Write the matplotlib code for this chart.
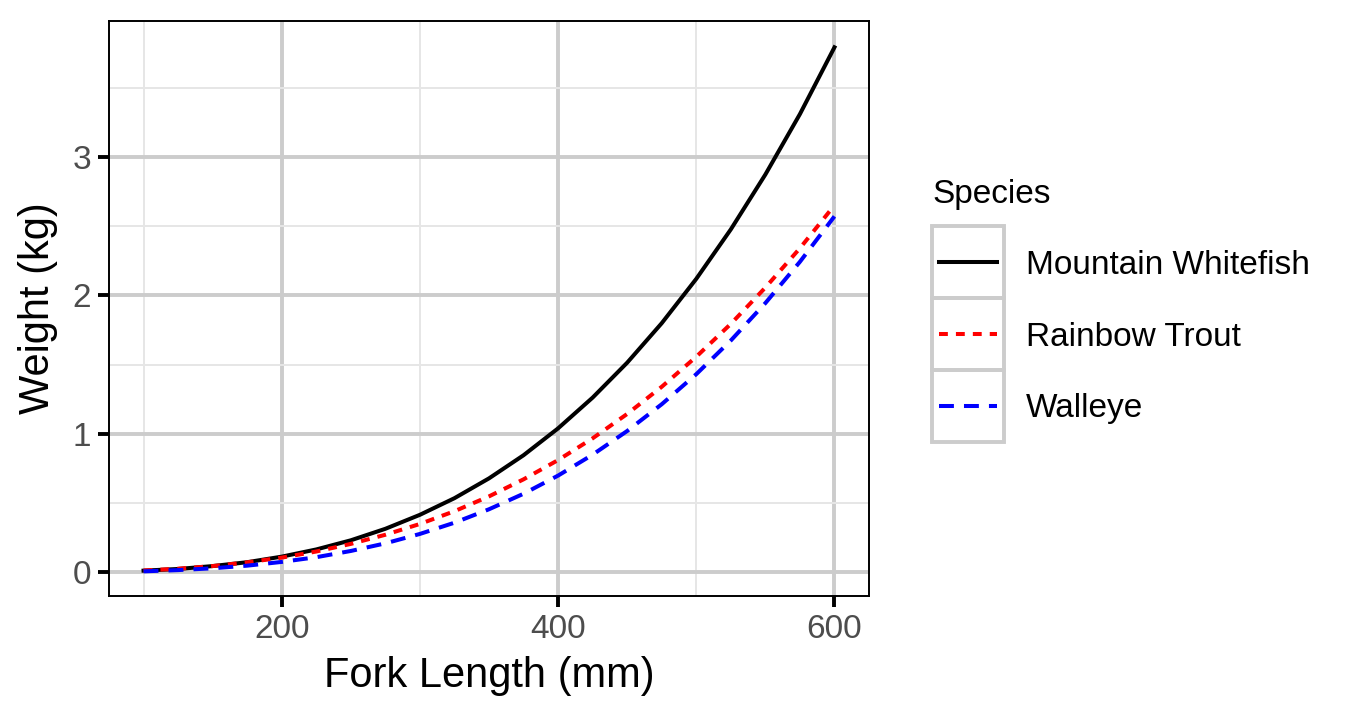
import matplotlib
matplotlib.use('Agg')
import matplotlib.pyplot as plt
from matplotlib.patches import Rectangle
from matplotlib.lines import Line2D

plt.rcParams['font.family'] = ['Liberation Sans', 'DejaVu Sans']

# values, fork length (mm) -> weight (kg)
fork_length = [100, 125, 150, 175, 200, 225, 250, 275, 300, 325, 350,
               375, 400, 425, 450, 475, 500, 525, 550, 575, 600]
mountain_whitefish = [0.013, 0.025, 0.046, 0.074, 0.114, 0.166, 0.232, 0.315, 0.416, 0.536, 0.679,
                      0.846, 1.040, 1.262, 1.514, 1.799, 2.119, 2.476, 2.872, 3.308, 3.790]
rainbow_trout = [0.014, 0.027, 0.046, 0.073, 0.107, 0.151, 0.206, 0.272, 0.350, 0.442, 0.549,
                 0.672, 0.811, 0.968, 1.144, 1.340, 1.557, 1.794, 2.056, 2.340, 2.650]
walleye = [0.008, 0.017, 0.030, 0.049, 0.076, 0.110, 0.155, 0.210, 0.278, 0.359, 0.456,
           0.568, 0.699, 0.850, 1.021, 1.214, 1.431, 1.674, 1.944, 2.242, 2.570]

species = ['Mountain Whitefish', 'Rainbow Trout', 'Walleye']
series = [mountain_whitefish, rainbow_trout, walleye]
colors = ['black', 'red', 'blue']
dashes = [None, (2.2, 2.0), (3.7, 2.5)]

x_ticks = [200, 400, 600]
y_ticks = [0, 1, 2, 3]

W, H, DPI = 1350, 719, 200
fig = plt.figure(figsize=(W / DPI, H / DPI), dpi=DPI)
ax = fig.add_axes([109 / W, 1 - 596 / H, (869 - 109) / W, (596 - 21) / H])

LW = 1.45
for vals, col, dsh in zip(series, colors, dashes):
    ln, = ax.plot(fork_length, vals, color=col, lw=LW, zorder=3)
    if dsh:
        ln.set_dashes(dsh)

ax.set_xlim(75, 625)
ax.set_ylim(-0.17, 3.98)
ax.set_xticks(x_ticks)
ax.set_yticks(y_ticks)
ax.set_xticks([100, 300, 500], minor=True)
ax.set_yticks([0.5, 1.5, 2.5, 3.5], minor=True)
ax.grid(which='major', color='#cccccc', lw=1.4, zorder=0)
ax.grid(which='minor', color='#e6e6e6', lw=0.7, zorder=0)
ax.set_axisbelow(True)
ax.tick_params(which='major', length=4, width=1.4, color='black',
               labelsize=12, labelcolor='#4d4d4d', pad=2.5)
ax.tick_params(which='minor', length=0)
for s in ax.spines.values():
    s.set_linewidth(0.7)
    s.set_color('black')

fig.text(489 / W, 1 - 676 / H, 'Fork Length (mm)', fontsize=15,
         ha='center', va='center')
fig.text(38 / W, 1 - 308 / H, 'Weight (kg)', fontsize=15, rotation=90,
         ha='center', va='center')

# legend drawn by hand to mimic the boxed keys
lx0, lx1 = 932, 1004
row_top = [226, 298, 370]
row_h = 72
leg = fig.add_axes([lx0 / W, 1 - (row_top[0] + 3 * row_h) / H,
                    (lx1 - lx0) / W, 3 * row_h / H])
leg.set_xlim(0, 1)
leg.set_ylim(0, 3)
leg.axis('off')
for i, (name, col, dsh) in enumerate(zip(species, colors, dashes)):
    yb = 2 - i
    leg.add_patch(Rectangle((0, yb), 1, 1, fill=False, edgecolor='#cccccc',
                            lw=1.4, clip_on=False))
    ln = Line2D([0.1, 0.9], [yb + 0.5, yb + 0.5], color=col, lw=LW)
    if dsh:
        ln.set_dashes(dsh)
    leg.add_line(ln)
    fig.text(1026 / W, 1 - (row_top[i] + row_h / 2 + 3) / H, name,
             fontsize=12, va='center', ha='left')
fig.text(lx0 / W, 1 - 195 / H, 'Species', fontsize=12, va='center', ha='left')

fig.savefig('out.png', dpi=DPI)
